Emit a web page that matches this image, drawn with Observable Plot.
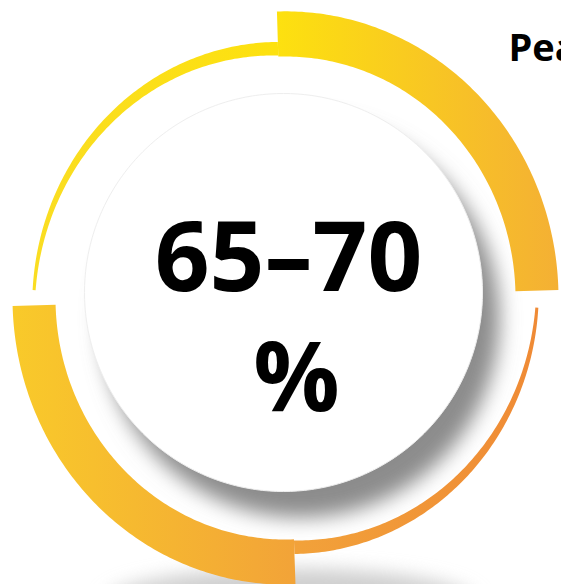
<!DOCTYPE html>
<html><head><meta charset="utf-8">
<script src="https://cdn.jsdelivr.net/npm/d3@7"></script>
<script src="https://cdn.jsdelivr.net/npm/@observablehq/plot@0.6"></script>
<style>
html,body{margin:0;padding:0;background:#fff;overflow:hidden;}
#chart svg{display:block;}
#dbg{position:absolute;left:5px;top:5px;font:11px monospace;width:540px;white-space:pre-wrap;color:#c00}
</style>
</head><body><div id="chart"></div><div id="dbg"></div>
<script>
// ---- data ----
const valueLines = ["65–70", "%"];
const headline = ["Peak"];
const segments = ["thickTopRight", "thinBottomRight", "thickBottomLeft", "thinTopLeft"];

// ---- layout / style ----
const W = 561, H = 584;
const ring = {cx: 285, cy: 297.5, sy: 1.05};
const segGeom = {
  thickTopRight:   {a0: -1.8,  a1: 88.4,  ri0: 230, ro0: 273, ri1: 230, ro1: 273, fill: "#F8C822", grad: ["#FDE10F", "#F4B034"]},
  thinBottomRight: {a0: 92.1,  a1: 177.9, ri0: 250, ro0: 253, ri1: 231, ro1: 244, fill: "#F09538", grad: ["#F2A23A", "#EF8A35"]},
  thickBottomLeft: {a0: 177.9, a1: 268.4, ri0: 230, ro0: 273, ri1: 230, ro1: 273, fill: "#F5B530", grad: ["#F9CA2A", "#F2A338"]},
  thinTopLeft:     {a0: 271.7, a1: 358.2, ri0: 250, ro0: 253, ri1: 231, ro1: 244, fill: "#FDE014", grad: ["#FADD22", "#FDE10F"]}
};
const disk = {cx: 283, cy: 292, r: 199};
const diskShadow = {dx: 17, dy: 26, fill: "#8c8c8c", blur: 10};
const floorShadow = {cx: 290, cy: 602, rx: 185, ry: 34, fill: "#cfcfcf", blur: 9};
const textPos = [{x: 288, y: 290}, {x: 296, y: 410}];
const valueSize = 96;
const headPos = {x: 508, y: 60, size: 38};
const font = "'Open Sans', 'DejaVu Sans', sans-serif";

// ---- geometry helpers ----
const rad = a => a * Math.PI / 180;
function segmentPolygon(name) {
  const g = segGeom[name], n = 120, pts = [];
  for (let i = 0; i <= n; i++) {
    const t = i / n, a = rad(g.a0 + (g.a1 - g.a0) * t), r = g.ro0 + (g.ro1 - g.ro0) * t;
    pts.push({x: ring.cx + r * Math.sin(a), y: ring.cy - r * Math.cos(a) * ring.sy});
  }
  for (let i = n; i >= 0; i--) {
    const t = i / n, a = rad(g.a0 + (g.a1 - g.a0) * t), r = g.ri0 + (g.ri1 - g.ri0) * t;
    pts.push({x: ring.cx + r * Math.sin(a), y: ring.cy - r * Math.cos(a) * ring.sy});
  }
  return pts;
}
function ellipsePolygon(cx, cy, rx, ry) {
  const pts = [];
  for (let i = 0; i <= 360; i++) {
    const a = rad(i);
    pts.push({x: cx + rx * Math.cos(a), y: cy + ry * Math.sin(a)});
  }
  return pts;
}

try {
const marks = [
  Plot.line(ellipsePolygon(floorShadow.cx, floorShadow.cy, floorShadow.rx, floorShadow.ry),
    {x: "x", y: "y", fill: floorShadow.fill, stroke: "none"}),
  Plot.line(ellipsePolygon(disk.cx + diskShadow.dx, disk.cy + diskShadow.dy, disk.r, disk.r),
    {x: "x", y: "y", fill: diskShadow.fill, stroke: "none"}),
  ...segments.map(s => Plot.line(segmentPolygon(s), {x: "x", y: "y", fill: segGeom[s].fill, stroke: "none"})),
  Plot.line(ellipsePolygon(disk.cx, disk.cy, disk.r, disk.r),
    {x: "x", y: "y", fill: "white", stroke: "#eeeeee", strokeWidth: 1}),
  Plot.text(valueLines, {
    x: (d, i) => textPos[i].x, y: (d, i) => textPos[i].y, text: d => d,
    fontSize: valueSize, fontWeight: 700, fontFamily: font, fill: "#000",
    textAnchor: "middle", lineAnchor: "bottom"
  }),
  Plot.text(headline, {
    x: () => headPos.x, y: () => headPos.y, text: d => d,
    fontSize: headPos.size, fontWeight: 700, fontFamily: font, fill: "#000",
    textAnchor: "start", lineAnchor: "bottom"
  })
];

const chart = Plot.plot({
  width: W, height: H, margin: 0,
  x: {domain: [0, W], range: [0, W], axis: null},
  y: {domain: [0, H], range: [0, H], axis: null},
  marks
});
document.getElementById("chart").appendChild(chart);

// defs built in the SVG namespace
const svg = d3.select(chart);
const defs = svg.insert("defs", ":first-child");
segments.forEach((s, i) => {
  const lg = defs.append("linearGradient").attr("id", "grad" + i)
    .attr("x1", 0).attr("y1", 0).attr("x2", 1).attr("y2", 0);
  lg.append("stop").attr("offset", 0).attr("stop-color", segGeom[s].grad[0]);
  lg.append("stop").attr("offset", 1).attr("stop-color", segGeom[s].grad[1]);
});
function blur(id, sd) {
  defs.append("filter").attr("id", id)
    .attr("x", "-50%").attr("y", "-100%").attr("width", "200%").attr("height", "300%")
    .append("feGaussianBlur").attr("stdDeviation", sd);
}
blur("blurFloor", floorShadow.blur);
blur("blurDisk", diskShadow.blur);

const groups = svg.selectChildren("g").nodes();
d3.select(groups[0]).attr("filter", "url(#blurFloor)");
d3.select(groups[1]).attr("filter", "url(#blurDisk)");
segments.forEach((s, i) => {
  d3.select(groups[2 + i]).attr("fill", `url(#grad${i})`).selectAll("path").attr("fill", `url(#grad${i})`);
});
} catch (e) { document.getElementById("dbg").textContent = "ERR " + e.message; }
</script>
</body></html>
